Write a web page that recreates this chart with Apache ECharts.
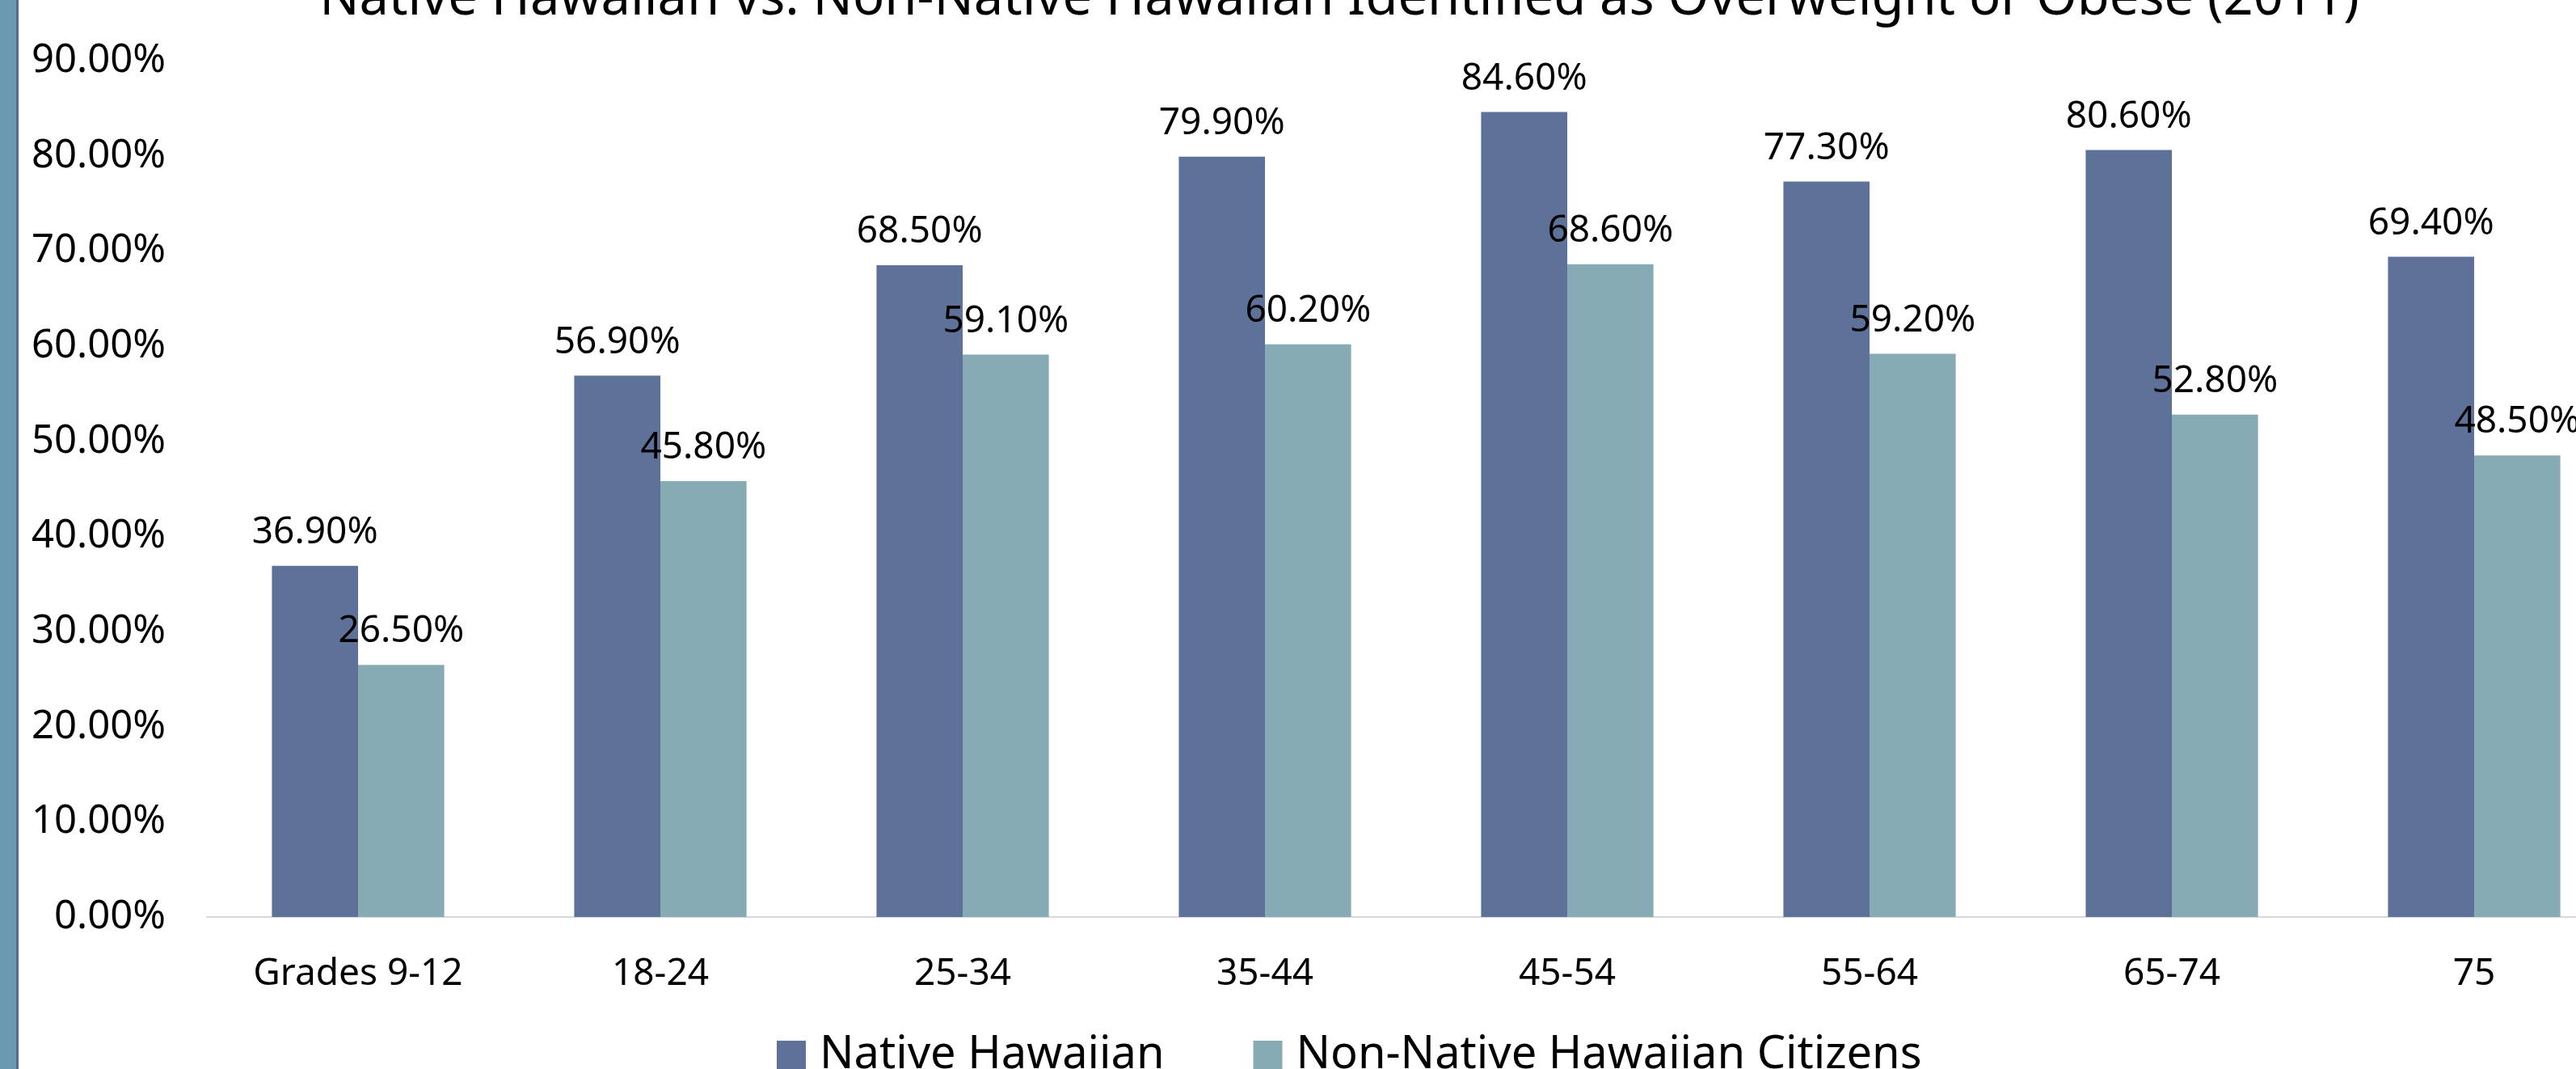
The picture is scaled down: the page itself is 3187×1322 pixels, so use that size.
<!DOCTYPE html>
<html>
<head>
<meta charset="utf-8">
<title>Native Hawaiian vs. Non-Native Hawaiian Identified as Overweight or Obese (2011)</title>
<script src="https://cdn.jsdelivr.net/npm/echarts@6/dist/echarts.min.js"></script>
<style>
    html, body { margin: 0; padding: 0; background: #fff; }
    #obesity_bars { width: 3187px; height: 1322px; }
</style>
</head>
<body>
<div id="obesity_bars"></div>
<script>

// Data
// ------------------------------

var ageGroups = ['Grades 9-12', '18-24', '25-34', '35-44', '45-54', '55-64', '65-74', '75'];
var nativeHawaiian = [36.9, 56.9, 68.5, 79.9, 84.6, 77.3, 80.6, 69.4];
var nonNativeHawaiian = [26.5, 45.8, 59.1, 60.2, 68.6, 59.2, 52.8, 48.5];
var seriesNames = ['Native Hawaiian', 'Non-Native Hawaiian Citizens'];


// Setup module
// ------------------------------

var ObesityBarChart = function() {

    var _obesityBarExample = function() {
        if (typeof echarts == 'undefined') {
            console.warn('Warning - echarts.min.js is not loaded.');
            return;
        }

        var obesity_bars_element = document.getElementById('obesity_bars');
        if (!obesity_bars_element) {
            return;
        }

        var obesity_bars = echarts.init(obesity_bars_element, null, { renderer: 'canvas' });

        // Colors
        var nativeColor = '#5e7299',
            nonNativeColor = '#86abb5',
            stripColor = '#6c99b2',
            stripEdgeColor = '#4f6c8a',
            axisLineColor = '#d9d9d9',
            fontFamily = '"Noto Sans", "Open Sans", sans-serif';

        var percentLabel = function(params) {
            return params.value.toFixed(2) + '%';
        };

        obesity_bars.setOption({
            backgroundColor: '#fff',
            animation: false,

            textStyle: {
                fontFamily: fontFamily,
                color: '#000'
            },

            // Title, mostly cut off above the picture
            title: {
                text: 'Native Hawaiian vs. Non-Native Hawaiian Identified as Overweight or Obese (2011)',
                left: 1652,
                textAlign: 'center',
                top: -38,
                textStyle: {
                    fontFamily: fontFamily,
                    fontSize: 65,
                    fontWeight: 'normal',
                    color: '#000'
                }
            },

            // Decorative strip on the left edge
            graphic: [
                {
                    type: 'rect',
                    shape: { x: 0, y: 0, width: 21, height: 1322 },
                    style: { fill: stripColor }
                },
                {
                    type: 'rect',
                    shape: { x: 20, y: 0, width: 3, height: 1322 },
                    style: { fill: stripEdgeColor }
                }
            ],

            legend: {
                data: seriesNames,
                left: 956,
                top: 1272,
                itemWidth: 36,
                itemHeight: 36,
                itemGap: 110,
                icon: 'rect',
                textStyle: {
                    fontFamily: fontFamily,
                    fontSize: 56,
                    color: '#000',
                    padding: [0, 0, 0, 12]
                }
            },

            // Plot runs past the right edge, last bar is clipped
            grid: {
                left: 256,
                right: -61,
                top: 75,
                bottom: 188,
                containLabel: false,
                outerBoundsMode: 'none'
            },

            xAxis: {
                type: 'category',
                data: ageGroups,
                axisLine: {
                    lineStyle: { color: axisLineColor, width: 2 }
                },
                axisTick: { show: false },
                axisLabel: {
                    fontFamily: fontFamily,
                    fontSize: 46,
                    color: '#000',
                    margin: 48
                }
            },

            yAxis: {
                type: 'value',
                min: 0,
                max: 90,
                interval: 10,
                splitLine: { show: false },
                axisLine: { show: false },
                axisTick: { show: false },
                axisLabel: {
                    fontFamily: fontFamily,
                    fontSize: 49,
                    color: '#000',
                    margin: 51,
                    formatter: function(value) {
                        return value.toFixed(2) + '%';
                    }
                }
            },

            series: [
                {
                    name: seriesNames[0],
                    type: 'bar',
                    data: nativeHawaiian,
                    barGap: '0%',
                    barCategoryGap: '43%',
                    itemStyle: { color: nativeColor },
                    label: {
                        show: true,
                        position: 'top',
                        distance: 18,
                        fontFamily: fontFamily,
                        fontSize: 46,
                        color: '#000',
                        formatter: percentLabel
                    }
                },
                {
                    name: seriesNames[1],
                    type: 'bar',
                    data: nonNativeHawaiian,
                    barGap: '0%',
                    barCategoryGap: '43%',
                    itemStyle: { color: nonNativeColor },
                    label: {
                        show: true,
                        position: 'top',
                        distance: 18,
                        fontFamily: fontFamily,
                        fontSize: 46,
                        color: '#000',
                        formatter: percentLabel
                    }
                }
            ]
        });
    };

    return {
        init: function() {
            _obesityBarExample();
        }
    }
}();


// Initialize module
// ------------------------------

document.addEventListener('DOMContentLoaded', function() {
    ObesityBarChart.init();
});
</script>
</body>
</html>
